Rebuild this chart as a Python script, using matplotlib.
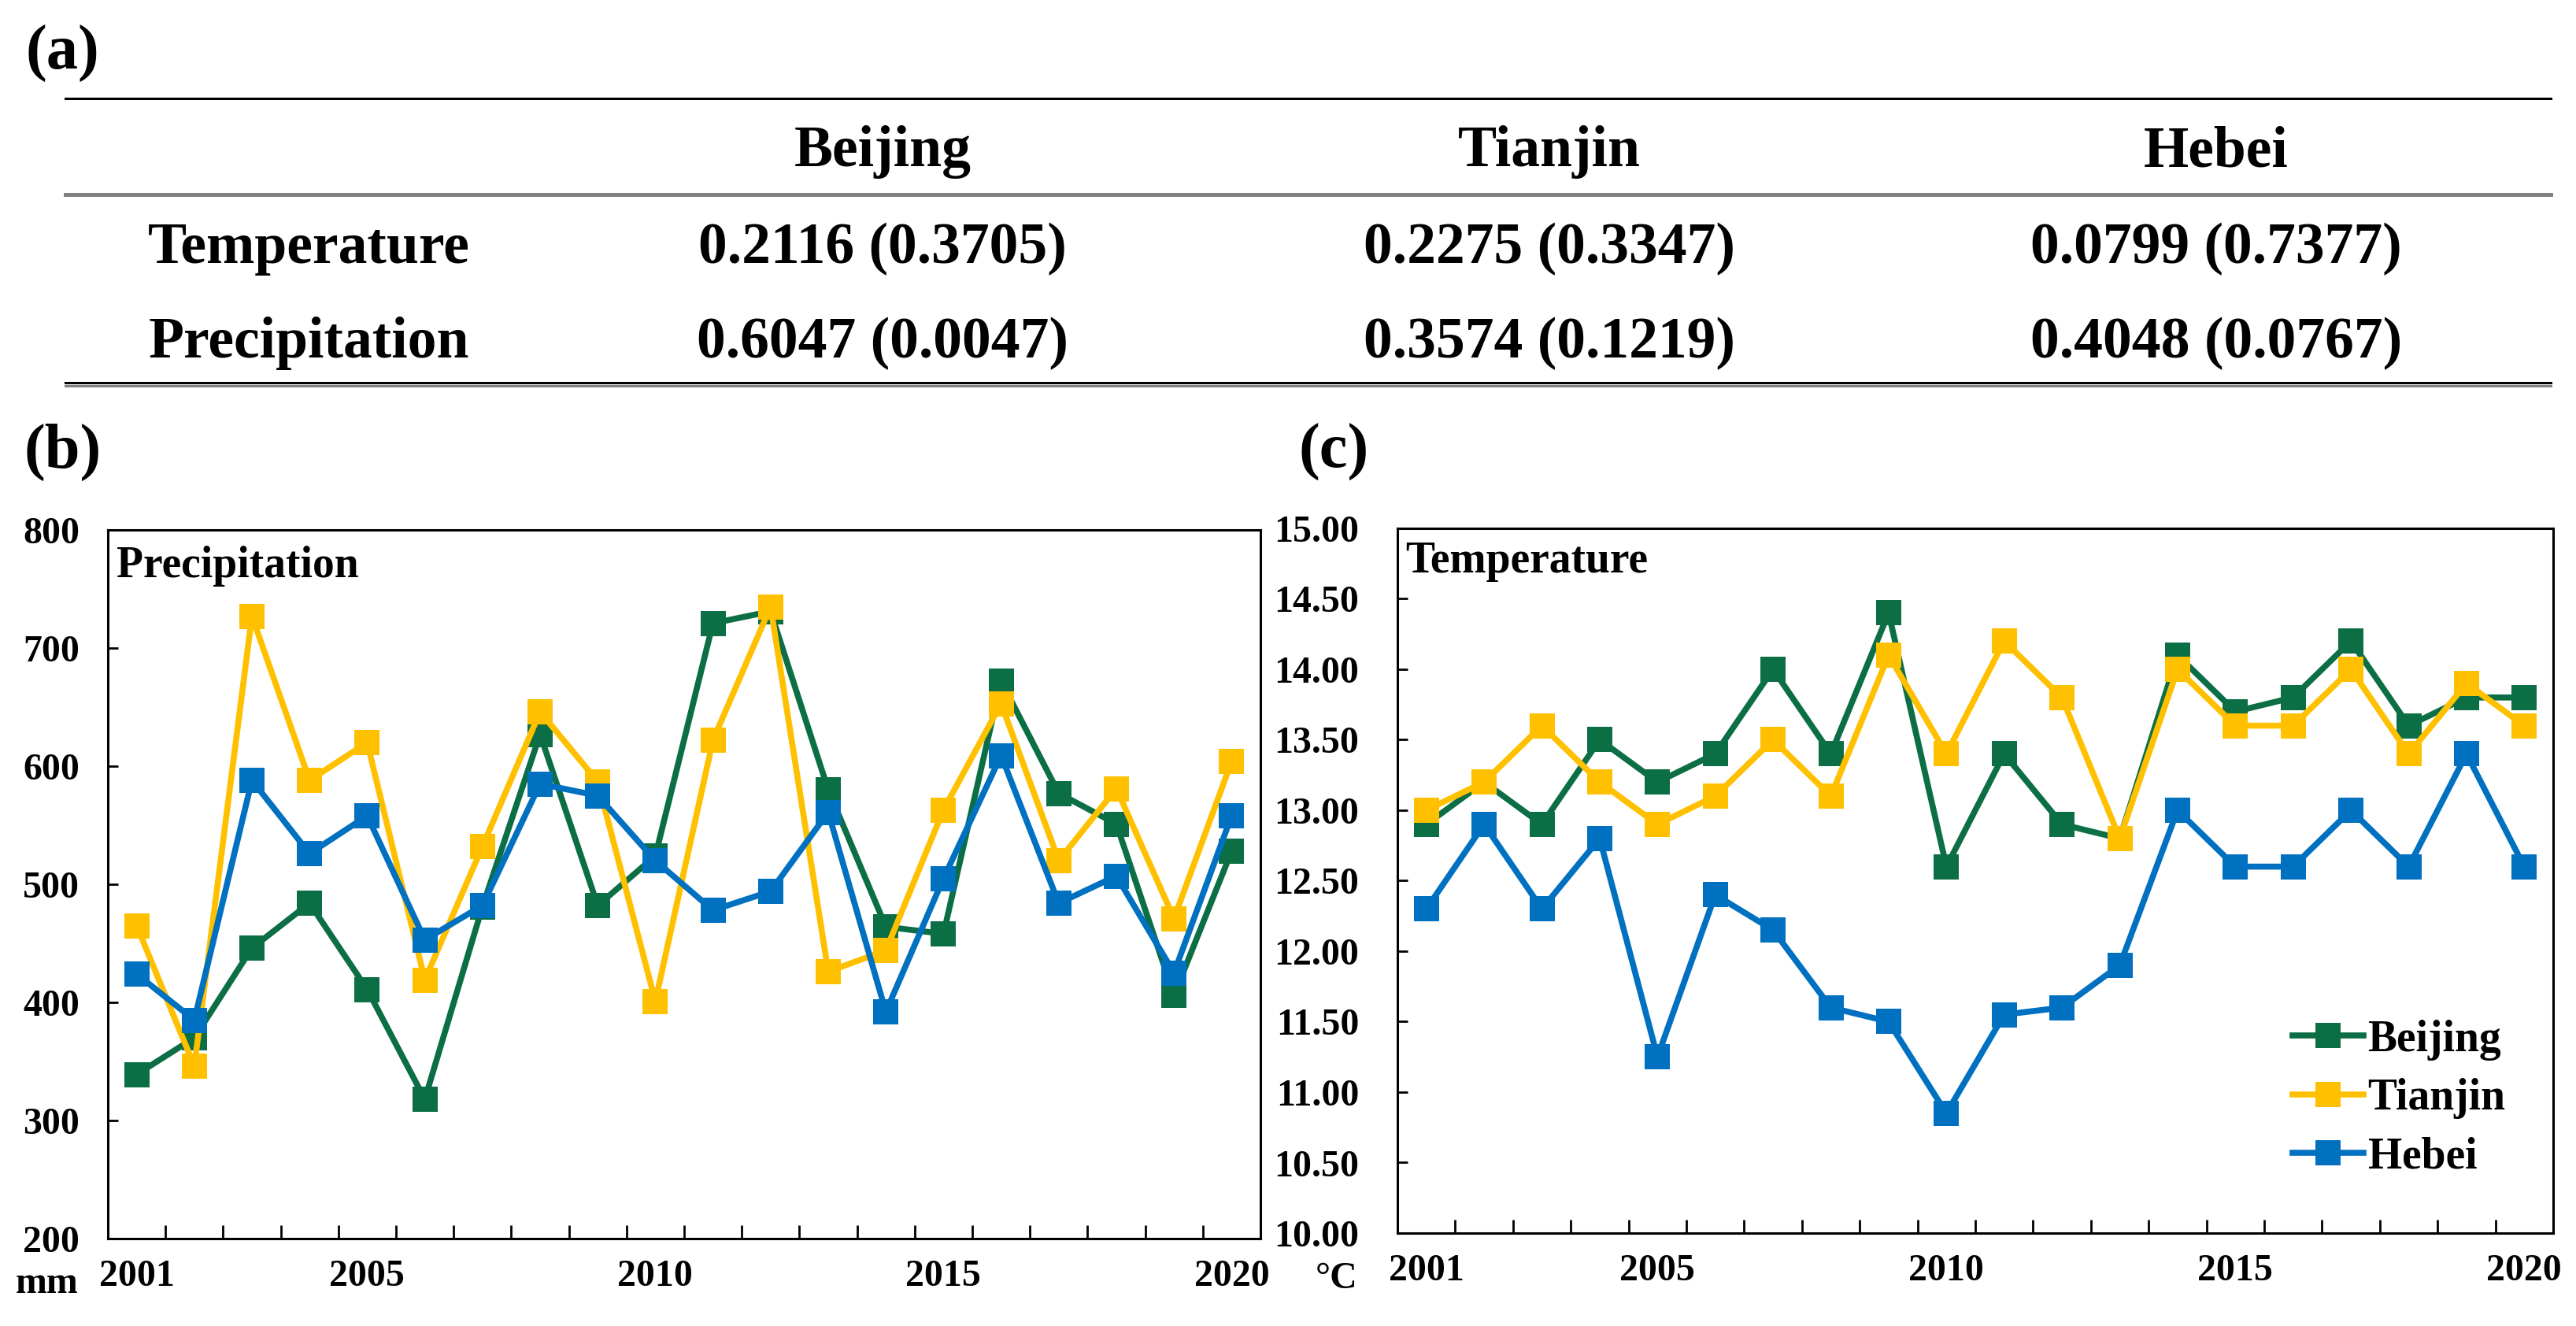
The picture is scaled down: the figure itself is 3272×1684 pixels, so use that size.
import matplotlib
matplotlib.use('Agg')
import matplotlib.pyplot as plt
from matplotlib.lines import Line2D
from matplotlib.ticker import FormatStrFormatter

W, H = 3273, 1684

years = list(range(2001, 2021))
year_labels = ['2001', '2005', '2010', '2015', '2020']
regions = ['Beijing', 'Tianjin', 'Hebei']
colors = ['#0B6E45', '#FFC000', '#0070C0']

# (a) correlation table
table_rows = ['Temperature', 'Precipitation']
table_values = [['0.2116 (0.3705)', '0.2275 (0.3347)', '0.0799 (0.7377)'],
                ['0.6047 (0.0047)', '0.3574 (0.1219)', '0.4048 (0.0767)']]

# (b) precipitation, mm
precip_beijing = [339, 370, 446, 484, 411, 318, 481, 627, 482, 524,
                  721, 731, 580, 464, 458, 672, 577, 551, 406, 528]
precip_tianjin = [465, 346, 727, 588, 620, 419, 532, 646, 587, 401,
                  622, 735, 426, 444, 563, 653, 520, 581, 471, 604]
precip_hebei = [424, 385, 588, 526, 558, 453, 482, 585, 575, 520,
                478, 494, 561, 392, 505, 609, 484, 507, 425, 558]

# (c) temperature, degC
temp_beijing = [12.9, 13.2, 12.9, 13.5, 13.2, 13.4, 14.0, 13.4, 14.4, 12.6,
                13.4, 12.9, 12.8, 14.1, 13.7, 13.8, 14.2, 13.6, 13.8, 13.8]
temp_tianjin = [13.0, 13.2, 13.6, 13.2, 12.9, 13.1, 13.5, 13.1, 14.1, 13.4,
                14.2, 13.8, 12.8, 14.0, 13.6, 13.6, 14.0, 13.4, 13.9, 13.6]
temp_hebei = [12.3, 12.9, 12.3, 12.8, 11.25, 12.4, 12.15, 11.6, 11.5, 10.85,
              11.55, 11.6, 11.9, 13.0, 12.6, 12.6, 13.0, 12.6, 13.4, 12.6]

plt.rcParams['font.family'] = ['Liberation Serif', 'DejaVu Serif']
plt.rcParams['font.weight'] = 'bold'


def fx(px):
    return px / W


def fy(py):
    return 1 - py / H


fig = plt.figure(figsize=(W / 100, H / 100), dpi=100)

# ---- table (a) ----
fig.text(fx(33), fy(88), '(a)', fontsize=58, ha='left', va='baseline')
fig.add_artist(Line2D([fx(83), fx(3240)], [fy(125)] * 2, color='black', lw=2.2, transform=fig.transFigure))
fig.add_artist(Line2D([fx(83), fx(3240)], [fy(247)] * 2, color='#808080', lw=3.6, transform=fig.transFigure))
fig.add_artist(Line2D([fx(83), fx(3240)], [fy(486)] * 2, color='black', lw=2.2, transform=fig.transFigure))
fig.add_artist(Line2D([fx(83), fx(3240)], [fy(490)] * 2, color='#808080', lw=2.2, transform=fig.transFigure))

col_x = [1121, 1968, 2815]
for name, cx in zip(regions, col_x):
    fig.text(fx(cx), fy(211), name, fontsize=53, ha='center', va='baseline')
for row, base, vals in zip(table_rows, [334, 454], table_values):
    fig.text(fx(392), fy(base), row, fontsize=53, ha='center', va='baseline')
    for v, cx in zip(vals, col_x):
        fig.text(fx(cx), fy(base), v, fontsize=53, ha='center', va='baseline')

fig.text(fx(31), fy(594), '(b)', fontsize=58, ha='left', va='baseline')
fig.text(fx(1650), fy(594), '(c)', fontsize=58, ha='left', va='baseline')


def draw_panel(ax, series, ylim, ystep, fmt, title, ypad, title_xy):
    x = list(range(len(years)))
    for vals, c, lab in zip(series, colors, regions):
        ax.plot(x, vals, color=c, lw=5.5, marker='s', ms=23.5, mew=0,
                label=lab, solid_joinstyle='miter')
    ax.set_xlim(-0.5, len(years) - 0.5)
    ax.set_ylim(*ylim)

    ax.set_xticks([i + 0.5 for i in range(len(years) - 1)])
    ax.set_xticklabels([])
    ax.tick_params(axis='x', which='major', direction='in', length=12.5, width=2)
    pos = [years.index(int(y)) for y in year_labels]
    ax.set_xticks(pos, minor=True)
    ax.set_xticklabels(year_labels, minor=True)
    ax.tick_params(axis='x', which='minor', length=0, pad=19, labelsize=34.5)

    yt = []
    v = ylim[0]
    while v <= ylim[1] + 1e-9:
        yt.append(v)
        v += ystep
    ax.set_yticks(yt)
    ax.yaxis.set_major_formatter(FormatStrFormatter(fmt))
    ax.tick_params(axis='y', direction='in', length=9.5, width=2, pad=ypad, labelsize=34.5)

    for s in ax.spines.values():
        s.set_linewidth(2.2)
        s.set_color('black')
    ax.text(title_xy[0], title_xy[1], title, fontsize=40, ha='left', va='baseline',
            transform=fig.transFigure)


ax_b = fig.add_axes([fx(137), fy(1573), fx(1601) - fx(137), (1573 - 673) / H])
draw_panel(ax_b, [precip_beijing, precip_tianjin, precip_hebei], (200, 800), 100, '%d',
           'Precipitation', 26, (fx(148), fy(733)))
fig.text(fx(100), fy(1642), 'mm', fontsize=34.5, ha='right', va='baseline')

ax_c = fig.add_axes([fx(1775), fy(1566), fx(3243) - fx(1775), (1566 - 671) / H])
draw_panel(ax_c, [temp_beijing, temp_tianjin, temp_hebei], (10, 15), 0.5, '%.2f',
           'Temperature', 35, (fx(1785), fy(727)))
fig.text(fx(1725), fy(1636), '°C', fontsize=34.5, ha='right', va='baseline')

ax_c.legend(loc='center left', bbox_to_anchor=(fx(2912), fy(1395)), bbox_transform=fig.transFigure,
            frameon=False, fontsize=40, borderpad=0, borderaxespad=0,
            handlelength=1.62, handletextpad=0.1, labelspacing=0.4)

fig.savefig('out.png', dpi=100)
